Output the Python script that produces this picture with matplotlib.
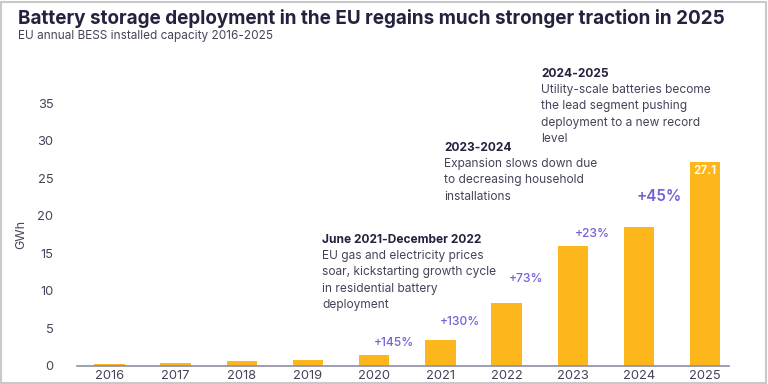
import matplotlib
matplotlib.use("Agg")
import matplotlib.pyplot as plt
from matplotlib.patches import Rectangle

plt.rcParams['font.family'] = ['Inter', 'DejaVu Sans']

# data
years = ["2016", "2017", "2018", "2019", "2020", "2021", "2022", "2023", "2024", "2025"]
capacity = [0.3, 0.4, 0.6, 0.8, 1.5, 3.5, 8.4, 16.0, 18.5, 27.1]
growth_labels = ["+145%", "+130%", "+73%", "+23%", "+45%"]
growth_idx = [4, 5, 6, 7, 8]
growth_y = [3.1, 5.8, 11.6, 17.6, 22.6]
yticks = [0, 5, 10, 15, 20, 25, 30, 35]

BAR = "#FDB71C"
PURPLE = "#7561D4"
DARK = "#23223F"
GREY = "#44445A"

W, H = 768, 384
fig = plt.figure(figsize=(W / 100, H / 100), dpi=100)
fig.patch.set_facecolor("white")

# axes placed in pixel terms
left, right, bottom, top = 77, 729, 366, 103
ax = fig.add_axes([left / W, 1 - bottom / H, (right - left) / W, (bottom - top) / H])

x = list(range(len(years)))
ax.bar(x, capacity, width=0.46, color=BAR)
ax.set_xlim(-0.49, 9.36)
ax.set_ylim(0, 35)
ax.set_xticks(x)
ax.set_xticklabels(years)
ax.set_yticks(yticks)
for s in ["top", "right", "left"]:
    ax.spines[s].set_visible(False)
ax.spines["bottom"].set_color("#8E8EA6")
ax.spines["bottom"].set_linewidth(1.2)
ax.tick_params(axis="x", length=0, pad=3, labelsize=9.3, labelcolor=GREY)
ax.tick_params(axis="y", length=0, pad=17, labelsize=9.3, labelcolor=GREY)
ax.set_ylabel("GWh", fontsize=9, color=GREY, labelpad=7)

# growth labels
for i, lab, yy in zip(growth_idx, growth_labels, growth_y):
    big = lab == "+45%"
    ax.text(i + 0.3, yy, lab, ha="center", va="center", color=PURPLE,
            fontsize=11 if big else 8.7, fontweight="semibold" if big else "medium")

# value label inside last bar
ax.text(9, capacity[-1] - 1.1, "27.1", ha="center", va="center", color="white",
        fontsize=8.5, fontweight="semibold")

# title
fig.text(18 / W, 1 - 18 / H, "Battery storage deployment in the EU regains much stronger traction in 2025",
         fontsize=13.6, fontweight="bold", color=DARK, va="center")
fig.text(18 / W, 1 - 36 / H, "EU annual BESS installed capacity 2016-2025",
         fontsize=8.5, color=GREY, va="center")

# annotations
notes = [
    (322, 240, "June 2021-December 2022",
     ["EU gas and electricity prices", "soar, kickstarting growth cycle",
      "in residential battery", "deployment"]),
    (444, 148, "2023-2024",
     ["Expansion slows down due", "to decreasing household", "installations"]),
    (541, 74, "2024-2025",
     ["Utility-scale batteries become", "the lead segment pushing",
      "deployment to a new record", "level"]),
]
for px, py, head, body in notes:
    fig.text(px / W, 1 - py / H, head, fontsize=8.6, fontweight="bold", color=DARK, va="center")
    for k, line in enumerate(body):
        fig.text(px / W, 1 - (py + 16.2 * (k + 1)) / H, line, fontsize=8.6, color=GREY, va="center")

# outer frame
fig.patches.append(Rectangle((1 / W, 1 / H), (W - 3) / W, (H - 3) / H, transform=fig.transFigure,
                             fill=False, edgecolor="#C9C9C9", linewidth=1.5))

fig.savefig("out.png", dpi=100)
